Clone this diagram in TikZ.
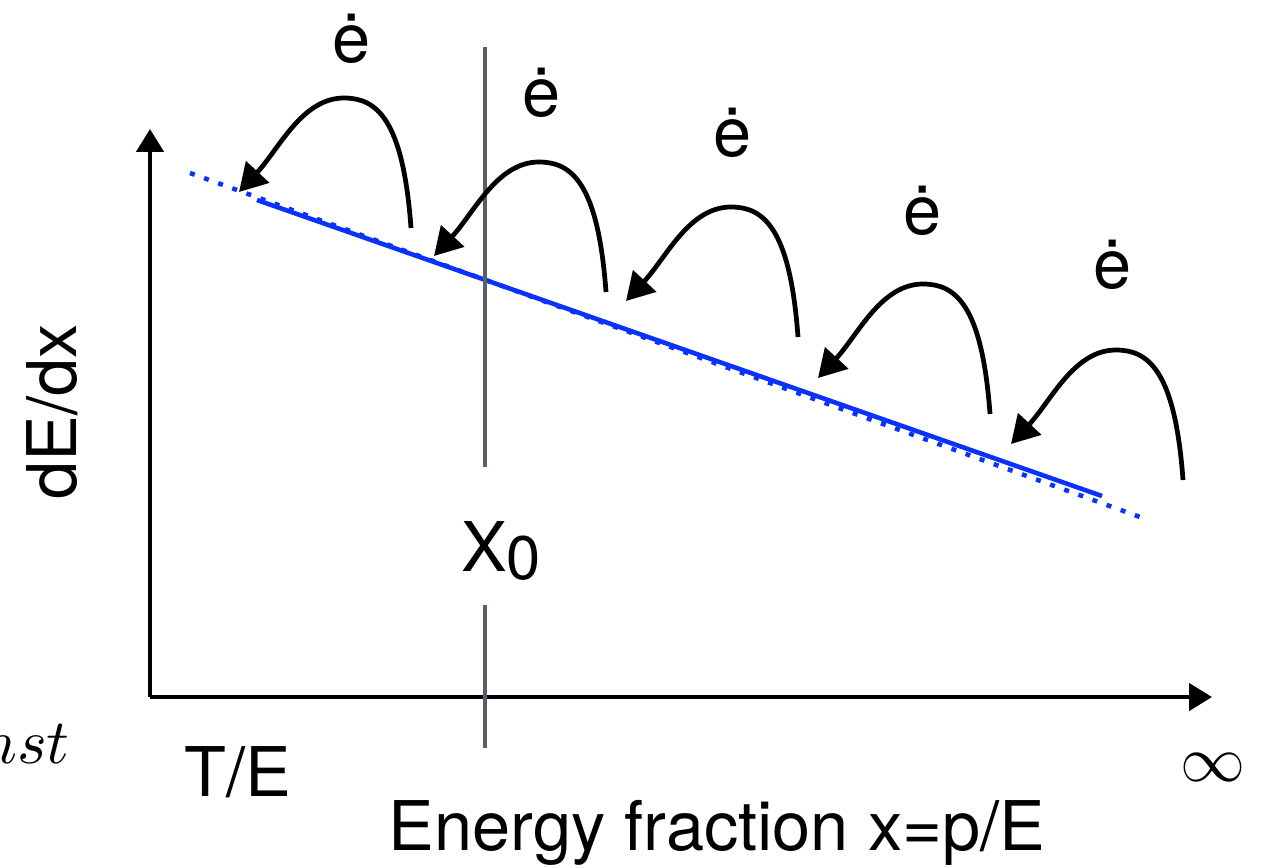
\documentclass[tikz,border=0pt]{standalone}
\usepackage{fontspec}
\setmainfont{TeX Gyre Heros}
\usetikzlibrary{arrows.meta}
\definecolor{lossblue}{RGB}{10, 50, 250}
\definecolor{cutgray}{RGB}{90, 94, 102}

\begin{document}
\begin{tikzpicture}[x=0.02cm, y=-0.02cm,
                axis/.style={line width=2.7pt,
                -{Triangle[length=0.46cm, width=0.54cm]}},
                hop/.style={line width=2.7pt,
                -{Triangle[length=0.55cm, width=0.62cm]}},
                cut/.style={cutgray, line width=2.7pt},
                lbl/.style={inner sep=0pt,
                font=\fontsize{39}{44}\selectfont},
                mlbl/.style={inner sep=0pt, font=\normalsize}]
                \useasboundingbox (0,0) rectangle (1267,868);
                % axes
                \coordinate (orig) at (150,697);
                \coordinate (yend) at (150,129);
                \coordinate (xend) at (1212,697);
                \draw[axis] (orig)--(yend);
                \draw[axis] (orig)--(xend);
                % energy loss line
                \coordinate (dotstart) at (190,173);
                \coordinate (dotend) at (1140,517);
                \coordinate (linestart) at (257,200);
                \coordinate (lineend) at (1102,496);
                \draw[lossblue, line width=2.6pt,
                      dash pattern=on 0.1cm off 0.2cm] (dotstart)--(dotend);
                \draw[lossblue, line width=2.6pt] (linestart)--(lineend);
                % x0 marker
                \node[lbl] (xnull) at (501,551)
                    {X\raisebox{-0.22ex}{\fontsize{35}{40}\selectfont 0}};
                \coordinate (cuttop) at (485,47);
                \coordinate (cutbot) at (485,748);
                \draw[cut] (cuttop)--(485,467);
                \draw[cut] (485,605)--(cutbot);
                % electrons
                \foreach \fx/\fy/\lx/\ly [count=\i] in
                    {411/228/352/63, 606/292/542/117, 798/337/733/157,
                     990/414/923/235, 1183/480/1113/288}{
                    \coordinate (foot\i) at (\fx,\fy);
                    \coordinate (top\i) at (\fx-67,\fy-130);
                    \coordinate (land\i) at (\fx-172,\fy-36);
                    \node[lbl, anchor=base] (elec\i) at (\lx,\ly) {ė};
                    \draw[hop] (foot\i) .. controls +(-8,-110) and +(32,0) .. (top\i)
                        .. controls +(-42,0) and +(40,-43) .. (land\i);
                }
                % labels
                \node[lbl, rotate=90] (ylab) at (52,412) {dE/dx};
                \node[lbl] (tlab) at (238,772) {T/E};
                \node[mlbl] (inflab) at (1213,767) {\scalebox{3.7}{$\infty$}};
                \node[lbl, anchor=base] (xlab) at (717,850)
                    {Energy fraction x=p/E};
                \node[mlbl, anchor=base east] (nstlab) at (70,763)
                    {\scalebox{3.6}{$nst$}};
            \end{tikzpicture}
\end{document}
